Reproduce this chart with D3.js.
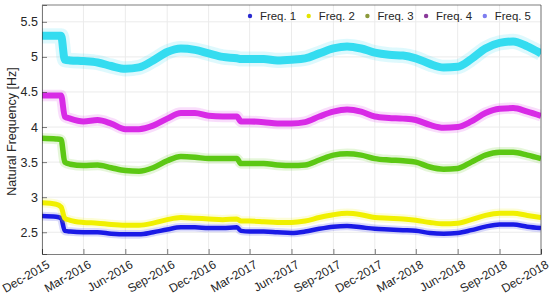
<!DOCTYPE html>
<html>
<head>
<meta charset="utf-8">
<script src="https://cdn.jsdelivr.net/npm/d3@7"></script>
<style>
	body { margin: 0; background: #fff; }
	text { font-family: "Liberation Sans", Arial, sans-serif; fill: #262626; }
</style>
</head>
<body>
<div id="chart"></div>
<script>
//===============================================
//------------------- DATA ----------------------
//===============================================
var dates = ['2015-12-01','2016-01-01','2016-01-12','2016-01-20','2016-02-01','2016-03-01','2016-04-01',
	'2016-05-01','2016-06-01','2016-07-01','2016-08-01','2016-09-01','2016-10-01','2016-11-01',
	'2016-12-01','2017-01-01','2017-02-01','2017-02-10','2017-03-01','2017-04-01','2017-05-01',
	'2017-06-01','2017-07-01','2017-08-01','2017-09-01','2017-10-01','2017-11-01','2017-12-01',
	'2018-01-01','2018-02-01','2018-03-01','2018-04-01','2018-05-01','2018-06-01','2018-07-01',
	'2018-08-01','2018-09-01','2018-10-01','2018-11-01','2018-12-01'];

var freq1 = [2.73,2.72,2.70,2.52,2.51,2.50,2.50,2.48,2.47,2.47,2.50,2.54,2.57,2.57,
	2.56,2.56,2.57,2.52,2.51,2.51,2.50,2.49,2.51,2.55,2.58,2.59,2.57,2.55,
	2.54,2.53,2.52,2.49,2.48,2.49,2.53,2.58,2.61,2.61,2.58,2.56];
var freq2 = [2.92,2.90,2.86,2.70,2.67,2.64,2.63,2.61,2.60,2.60,2.63,2.68,2.71,2.70,
	2.69,2.68,2.69,2.66,2.66,2.65,2.64,2.64,2.66,2.71,2.75,2.77,2.75,2.71,
	2.70,2.69,2.67,2.64,2.62,2.63,2.68,2.74,2.77,2.77,2.74,2.71];
var freq3 = [3.84,3.83,3.82,3.50,3.47,3.45,3.46,3.42,3.38,3.37,3.42,3.52,3.58,3.57,
	3.55,3.55,3.55,3.48,3.48,3.48,3.46,3.45,3.46,3.53,3.60,3.62,3.60,3.55,
	3.53,3.52,3.50,3.43,3.40,3.41,3.50,3.60,3.64,3.64,3.60,3.55];
var freq4 = [4.45,4.45,4.45,4.15,4.12,4.08,4.10,4.05,3.97,3.97,4.02,4.12,4.20,4.20,
	4.16,4.15,4.15,4.08,4.08,4.07,4.05,4.05,4.07,4.15,4.22,4.25,4.22,4.15,
	4.13,4.12,4.10,4.03,3.99,4.00,4.08,4.20,4.26,4.27,4.22,4.16];
var freq5 = [5.30,5.30,5.30,4.96,4.95,4.94,4.92,4.87,4.83,4.85,4.95,5.07,5.12,5.10,
	5.05,5.00,4.98,4.97,4.97,4.97,4.95,4.96,4.98,5.05,5.12,5.15,5.12,5.06,
	5.03,5.02,4.98,4.90,4.85,4.86,4.97,5.12,5.20,5.22,5.15,5.05];

var seriesNames = ['Freq. 1','Freq. 2','Freq. 3','Freq. 4','Freq. 5'];
var seriesValues = [freq1, freq2, freq3, freq4, freq5];
var bandColors = ['#1a1ae6','#f0f000','#5cc814','#d82ae6','#34dcf0'];
var legendColors = ['#2a2ad0','#e4e400','#8c9a3c','#8a3a9a','#7d7df0'];
var bandWidths = [4.5, 5, 5.5, 6, 8];

var xTicks = ['2015-12-01','2016-03-01','2016-06-01','2016-09-01','2016-12-01','2017-03-01',
	'2017-06-01','2017-09-01','2017-12-01','2018-03-01','2018-06-01','2018-09-01','2018-12-01'];
var yTicks = [2.5, 3, 3.5, 4, 4.5, 5, 5.5];

//===============================================
//------------------- CHART ---------------------
//===============================================
var width = 550, height = 296;
var plot_left = 42, plot_right = 541, plot_top = 5, plot_bottom = 254;

var parse = d3.timeParse('%Y-%m-%d');
var fmt = d3.timeFormat('%b-%Y');

var xScale = d3.scaleTime()
	.domain([parse('2015-12-01'), parse('2018-12-01')])
	.range([plot_left, plot_right]);
var yScale = d3.scaleLinear()
	.domain([2.19, 5.74])
	.range([plot_bottom, plot_top]);

var svg = d3.select('#chart').append('svg')
	.attr('width', width)
	.attr('height', height);

// grid
svg.append('g').selectAll('line').data(xTicks).enter().append('line')
	.attr('x1', function (d) { return xScale(parse(d)); })
	.attr('x2', function (d) { return xScale(parse(d)); })
	.attr('y1', plot_top).attr('y2', plot_bottom)
	.attr('stroke', '#ebebeb').attr('stroke-width', 1);
svg.append('g').selectAll('line').data(yTicks).enter().append('line')
	.attr('x1', plot_left).attr('x2', plot_right)
	.attr('y1', function (d) { return yScale(d); })
	.attr('y2', function (d) { return yScale(d); })
	.attr('stroke', '#ebebeb').attr('stroke-width', 1);

// series bands
var line = d3.line()
	.x(function (d, i) { return xScale(parse(dates[i])); })
	.y(function (d) { return yScale(d); })
	.curve(d3.curveMonotoneX);

svg.append('clipPath').attr('id', 'plotClip').append('rect')
	.attr('x', plot_left).attr('y', plot_top)
	.attr('width', plot_right - plot_left).attr('height', plot_bottom - plot_top);

var bands = svg.append('g').attr('clip-path', 'url(#plotClip)');
seriesValues.forEach(function (vals, k) {
	// faint halo standing for the scatter around each band
	bands.append('path')
		.attr('d', line(vals))
		.attr('fill', 'none')
		.attr('stroke', bandColors[k])
		.attr('stroke-opacity', 0.16)
		.attr('stroke-width', bandWidths[k] * 1.9)
		.attr('stroke-linejoin', 'round');
	bands.append('path')
		.attr('d', line(vals))
		.attr('fill', 'none')
		.attr('stroke', bandColors[k])
		.attr('stroke-width', bandWidths[k])
		.attr('stroke-linejoin', 'round');
});

// axes box
var xAxis = d3.axisBottom(xScale)
	.tickValues(xTicks.map(parse))
	.tickSize(-5)
	.tickFormat(fmt);
var gx = svg.append('g')
	.attr('transform', 'translate(0,' + plot_bottom + ')')
	.call(xAxis);
gx.select('.domain').attr('stroke', '#262626').attr('stroke-width', 0.6);
gx.selectAll('.tick line').attr('stroke', '#262626').attr('stroke-width', 0.6);
gx.selectAll('.tick text')
	.attr('font-size', 12)
	.attr('font-family', '"Liberation Sans", Arial, sans-serif')
	.attr('fill', '#262626')
	.style('text-anchor', 'end')
	.attr('x', 0).attr('dx', 0).attr('dy', 0)
	.attr('y', 0)
	.attr('transform', 'translate(8,13) rotate(-30)');

var yAxis = d3.axisLeft(yScale)
	.tickValues(yTicks)
	.tickSize(-5)
	.tickFormat(d3.format('~g'));
var gy = svg.append('g')
	.attr('transform', 'translate(' + plot_left + ',0)')
	.call(yAxis);
gy.select('.domain').attr('stroke', '#262626').attr('stroke-width', 0.6);
gy.selectAll('.tick line').attr('stroke', '#262626').attr('stroke-width', 0.6);
gy.selectAll('.tick text')
	.attr('font-size', 12.5)
	.attr('font-family', '"Liberation Sans", Arial, sans-serif')
	.attr('fill', '#262626')
	.attr('x', -4);

// top & right border
svg.append('line').attr('x1', plot_left).attr('x2', plot_right)
	.attr('y1', plot_top).attr('y2', plot_top)
	.attr('stroke', '#262626').attr('stroke-width', 0.6);
svg.append('line').attr('x1', plot_right).attr('x2', plot_right)
	.attr('y1', plot_top).attr('y2', plot_bottom)
	.attr('stroke', '#262626').attr('stroke-width', 0.6);

// y label
svg.append('text')
	.attr('transform', 'translate(16,' + ((plot_top + plot_bottom) / 2 + 2) + ') rotate(-90)')
	.attr('text-anchor', 'middle')
	.attr('font-size', 12.5)
	.text('Natural Frequency [Hz]');

// legend
var legend = svg.append('g');
seriesNames.forEach(function (name, k) {
	var lx = 250 + k * 58.7;
	legend.append('circle')
		.attr('cx', lx).attr('cy', 16).attr('r', 2.2)
		.attr('fill', legendColors[k]);
	legend.append('text')
		.attr('x', lx + 10).attr('y', 20)
		.attr('font-size', 11.4)
		.text(name);
});
</script>
</body>
</html>
